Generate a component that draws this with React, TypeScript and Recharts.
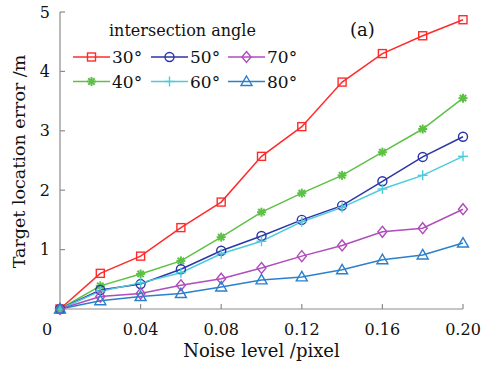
import { Line, LineChart, XAxis, YAxis } from "recharts";

const noiseLevels = [0, 0.02, 0.04, 0.06, 0.08, 0.1, 0.12, 0.14, 0.16, 0.18, 0.2];
const angle30 = [0, 0.6, 0.89, 1.37, 1.8, 2.57, 3.07, 3.82, 4.3, 4.6, 4.87];
const angle40 = [0, 0.39, 0.59, 0.81, 1.21, 1.63, 1.95, 2.25, 2.64, 3.03, 3.55];
const angle50 = [0, 0.32, 0.42, 0.67, 0.98, 1.23, 1.5, 1.74, 2.15, 2.56, 2.9];
const angle60 = [0, 0.3, 0.44, 0.61, 0.93, 1.14, 1.47, 1.71, 2.02, 2.25, 2.57];
const angle70 = [0, 0.21, 0.26, 0.4, 0.51, 0.69, 0.89, 1.07, 1.3, 1.36, 1.68];
const angle80 = [0, 0.14, 0.21, 0.26, 0.37, 0.49, 0.54, 0.66, 0.83, 0.91, 1.11];
const xTicks = [0, 0.04, 0.08, 0.12, 0.16, 0.2];
const yTicks = [1, 2, 3, 4, 5];

type Shape = "square" | "star" | "circle" | "plus" | "diamond" | "triangle";

const series: { key: string; label: string; color: string; shape: Shape; values: number[] }[] = [
  { key: "a30", label: "30°", color: "#ff2b2b", shape: "square", values: angle30 },
  { key: "a40", label: "40°", color: "#5cc144", shape: "star", values: angle40 },
  { key: "a50", label: "50°", color: "#2a36a8", shape: "circle", values: angle50 },
  { key: "a60", label: "60°", color: "#4ccbdc", shape: "plus", values: angle60 },
  { key: "a70", label: "70°", color: "#b04cbc", shape: "diamond", values: angle70 },
  { key: "a80", label: "80°", color: "#2a80cc", shape: "triangle", values: angle80 },
];

const chartData = noiseLevels.map((noise, i) => {
  const row: Record<string, number> = { noise };
  series.forEach((s) => {
    row[s.key] = s.values[i];
  });
  return row;
});

const FONT = "DejaVu Serif";
const AXIS = "#8c8c8c";
const INK = "#111";

const Marker = ({ cx, cy, shape, color }: { cx: number; cy: number; shape: Shape; color: string }) => {
  const sw = 1.4;
  switch (shape) {
    case "square":
      return <rect x={cx - 4} y={cy - 4} width={8} height={8} fill="none" stroke={color} strokeWidth={sw} />;
    case "circle":
      return <circle cx={cx} cy={cy} r={4.5} fill="none" stroke={color} strokeWidth={sw} />;
    case "plus":
      return (
        <g stroke={color} strokeWidth={sw}>
          <line x1={cx - 5} y1={cy} x2={cx + 5} y2={cy} />
          <line x1={cx} y1={cy - 5} x2={cx} y2={cy + 5} />
        </g>
      );
    case "star":
      return (
        <g stroke={color} strokeWidth={2}>
          <line x1={cx - 4.5} y1={cy} x2={cx + 4.5} y2={cy} />
          <line x1={cx} y1={cy - 4.5} x2={cx} y2={cy + 4.5} />
          <line x1={cx - 3.2} y1={cy - 3.2} x2={cx + 3.2} y2={cy + 3.2} />
          <line x1={cx - 3.2} y1={cy + 3.2} x2={cx + 3.2} y2={cy - 3.2} />
        </g>
      );
    case "diamond":
      return (
        <polygon
          points={`${cx},${cy - 5.5} ${cx + 4.5},${cy} ${cx},${cy + 5.5} ${cx - 4.5},${cy}`}
          fill="none"
          stroke={color}
          strokeWidth={sw}
        />
      );
    default:
      return (
        <polygon
          points={`${cx},${cy - 5.5} ${cx + 5.5},${cy + 4} ${cx - 5.5},${cy + 4}`}
          fill="none"
          stroke={color}
          strokeWidth={sw}
        />
      );
  }
};

const XTick = ({ x, y, payload }: any) => (
  <text
    x={x + (payload.value === 0 ? -13 : 0)}
    y={y}
    dy="0.71em"
    textAnchor="middle"
    fill={INK}
    style={{ fontFamily: FONT }}
    fontSize={16}
  >
    {payload.value === 0 ? "0" : payload.value.toFixed(2)}
  </text>
);

const YLabel = ({ viewBox }: any) => {
  const cx = viewBox.x + 25;
  const cy = viewBox.y + viewBox.height / 2 + 1;
  return (
    <text
      x={cx}
      y={cy}
      transform={`rotate(-90, ${cx}, ${cy})`}
      textAnchor="middle"
      fill={INK}
      style={{ fontFamily: FONT }}
      fontSize={17.5}
    >
      Target location error /m
    </text>
  );
};

const legendColumns = [73, 151, 228];
const legendRows = [57, 81.5];

const LegendOverlay = () => (
  <svg
    width={481}
    height={369}
    style={{ position: "absolute", left: 0, top: 0, pointerEvents: "none", fontFamily: FONT }}
  >
    <text x={109} y={35.5} fontSize={16} fill={INK}>
      intersection angle
    </text>
    <text x={350} y={35.5} fontSize={18} fill={INK}>
      (a)
    </text>
    {series.map((s, i) => {
      const col = legendColumns[Math.floor(i / 2)];
      const rowY = legendRows[i % 2];
      return (
        <g key={s.key}>
          <line x1={col} y1={rowY} x2={col + 37} y2={rowY} stroke={s.color} strokeWidth={1.5} />
          <Marker cx={col + 18.5} cy={rowY} shape={s.shape} color={s.color} />
          <text x={col + 39} y={rowY + 6} fontSize={17} fill={INK}>
            {s.label}
          </text>
        </g>
      );
    })}
  </svg>
);

export default function App() {
  return (
    <div style={{ position: "absolute", left: 0, top: 0, width: 481, height: 369, background: "#fff" }}>
      <LineChart width={481} height={369} data={chartData} margin={{ top: 12, right: 18, left: 0, bottom: 0 }}>
        <XAxis
          dataKey="noise"
          type="number"
          domain={[0, 0.2]}
          ticks={xTicks}
          height={60}
          stroke={AXIS}
          strokeWidth={1.2}
          tickSize={-5}
          tickMargin={20}
          tick={<XTick />}
          label={{
            value: "Noise level /pixel",
            position: "insideBottom",
            offset: 12,
            fill: INK,
            style: { fontFamily: FONT },
            fontSize: 18,
          }}
        />
        <XAxis xAxisId="top" orientation="top" dataKey="noise" type="number" domain={[0, 0.2]} height={0} stroke={AXIS} strokeWidth={1.2} tick={false} tickLine={false} />
        <YAxis
          type="number"
          domain={[0, 5]}
          ticks={yTicks}
          width={60}
          stroke={AXIS}
          strokeWidth={1.2}
          tickSize={-5}
          tickMargin={15}
          tick={{ fill: INK, style: { fontFamily: FONT }, fontSize: 16 }}
          label={{ content: (props: any) => <YLabel {...props} /> }}
        />
        <YAxis yAxisId="right" orientation="right" type="number" domain={[0, 5]} width={0} stroke={AXIS} strokeWidth={1.2} tick={false} tickLine={false} />
        {series.map((s) => (
          <Line
            key={s.key}
            type="linear"
            dataKey={s.key}
            stroke={s.color}
            strokeWidth={1.5}
            isAnimationActive={false}
            dot={(p: any) => <Marker key={`${s.key}-${p.index}`} cx={p.cx} cy={p.cy} shape={s.shape} color={s.color} />}
            activeDot={false}
          />
        ))}
      </LineChart>
      <LegendOverlay />
    </div>
  );
}
